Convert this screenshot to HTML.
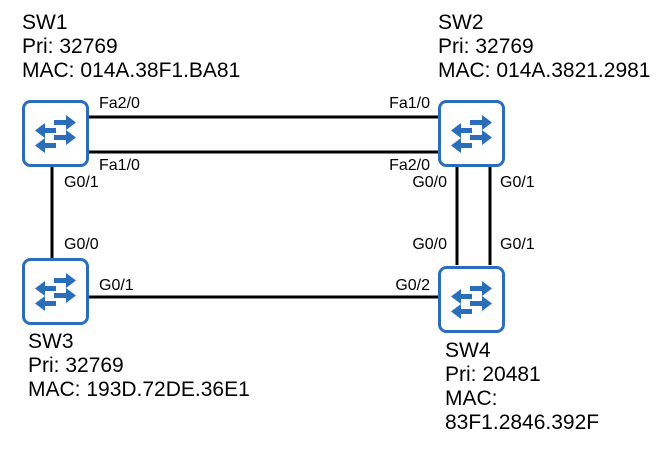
<!DOCTYPE html>
<html><head><style>body{margin:0;background:#fff}</style></head><body>
<svg width="662" height="455" xmlns="http://www.w3.org/2000/svg" font-family="Liberation Sans, sans-serif">
<defs>
<g id="sw">
<rect x="1.5" y="1.5" width="64" height="64" rx="7" fill="#fff" stroke="#2a6ebb" stroke-width="3"/>
<g fill="#2a6ebb">
<polygon points="32,20 44,20 44,15 54,22.5 44,30 44,25 32,25"/>
<polygon points="34,28 23,28 23,23 13,30.5 23,38 23,33 34,33"/>
<polygon points="32,35 44,35 44,30 54,37.5 44,45 44,40 32,40"/>
<polygon points="34,43 23,43 23,38 13,45.5 23,53 23,48 34,48"/>
</g>
</g>
</defs>
<g stroke="#000" stroke-width="3">
<line x1="89" y1="117" x2="438" y2="117"/>
<line x1="89" y1="152" x2="438" y2="152"/>
<line x1="52" y1="167" x2="52" y2="258"/>
<line x1="89" y1="297" x2="438" y2="297"/>
<line x1="457" y1="167" x2="457" y2="265"/>
<line x1="490" y1="167" x2="490" y2="265"/>
</g>
<use href="#sw" x="22" y="100"/>
<use href="#sw" x="438" y="100"/>
<use href="#sw" x="22" y="258"/>
<use href="#sw" x="438" y="266"/>
<g font-size="21" fill="#000">
<text x="22" y="29">SW1</text><text x="22" y="53">Pri: 32769</text><text x="22" y="77">MAC: 014A.38F1.BA81</text>
<text x="438" y="29">SW2</text><text x="438" y="53">Pri: 32769</text><text x="438" y="77">MAC: 014A.3821.2981</text>
<text x="28" y="348">SW3</text><text x="28" y="372">Pri: 32769</text><text x="28" y="396">MAC: 193D.72DE.36E1</text>
<text x="445" y="357">SW4</text><text x="445" y="381">Pri: 20481</text><text x="445" y="405">MAC:</text><text x="445" y="429">83F1.2846.392F</text>
</g>
<g font-size="16" fill="#000">
<text x="99" y="108">Fa2/0</text>
<text x="99" y="170">Fa1/0</text>
<text x="64" y="187">G0/1</text>
<text x="64" y="249">G0/0</text>
<text x="99" y="290">G0/1</text>
<text x="430" y="108" text-anchor="end">Fa1/0</text>
<text x="430" y="170" text-anchor="end">Fa2/0</text>
<text x="447" y="187" text-anchor="end">G0/0</text>
<text x="447" y="249" text-anchor="end">G0/0</text>
<text x="430" y="290" text-anchor="end">G0/2</text>
<text x="500" y="187">G0/1</text>
<text x="500" y="249">G0/1</text>
</g>
</svg>
</body></html>
